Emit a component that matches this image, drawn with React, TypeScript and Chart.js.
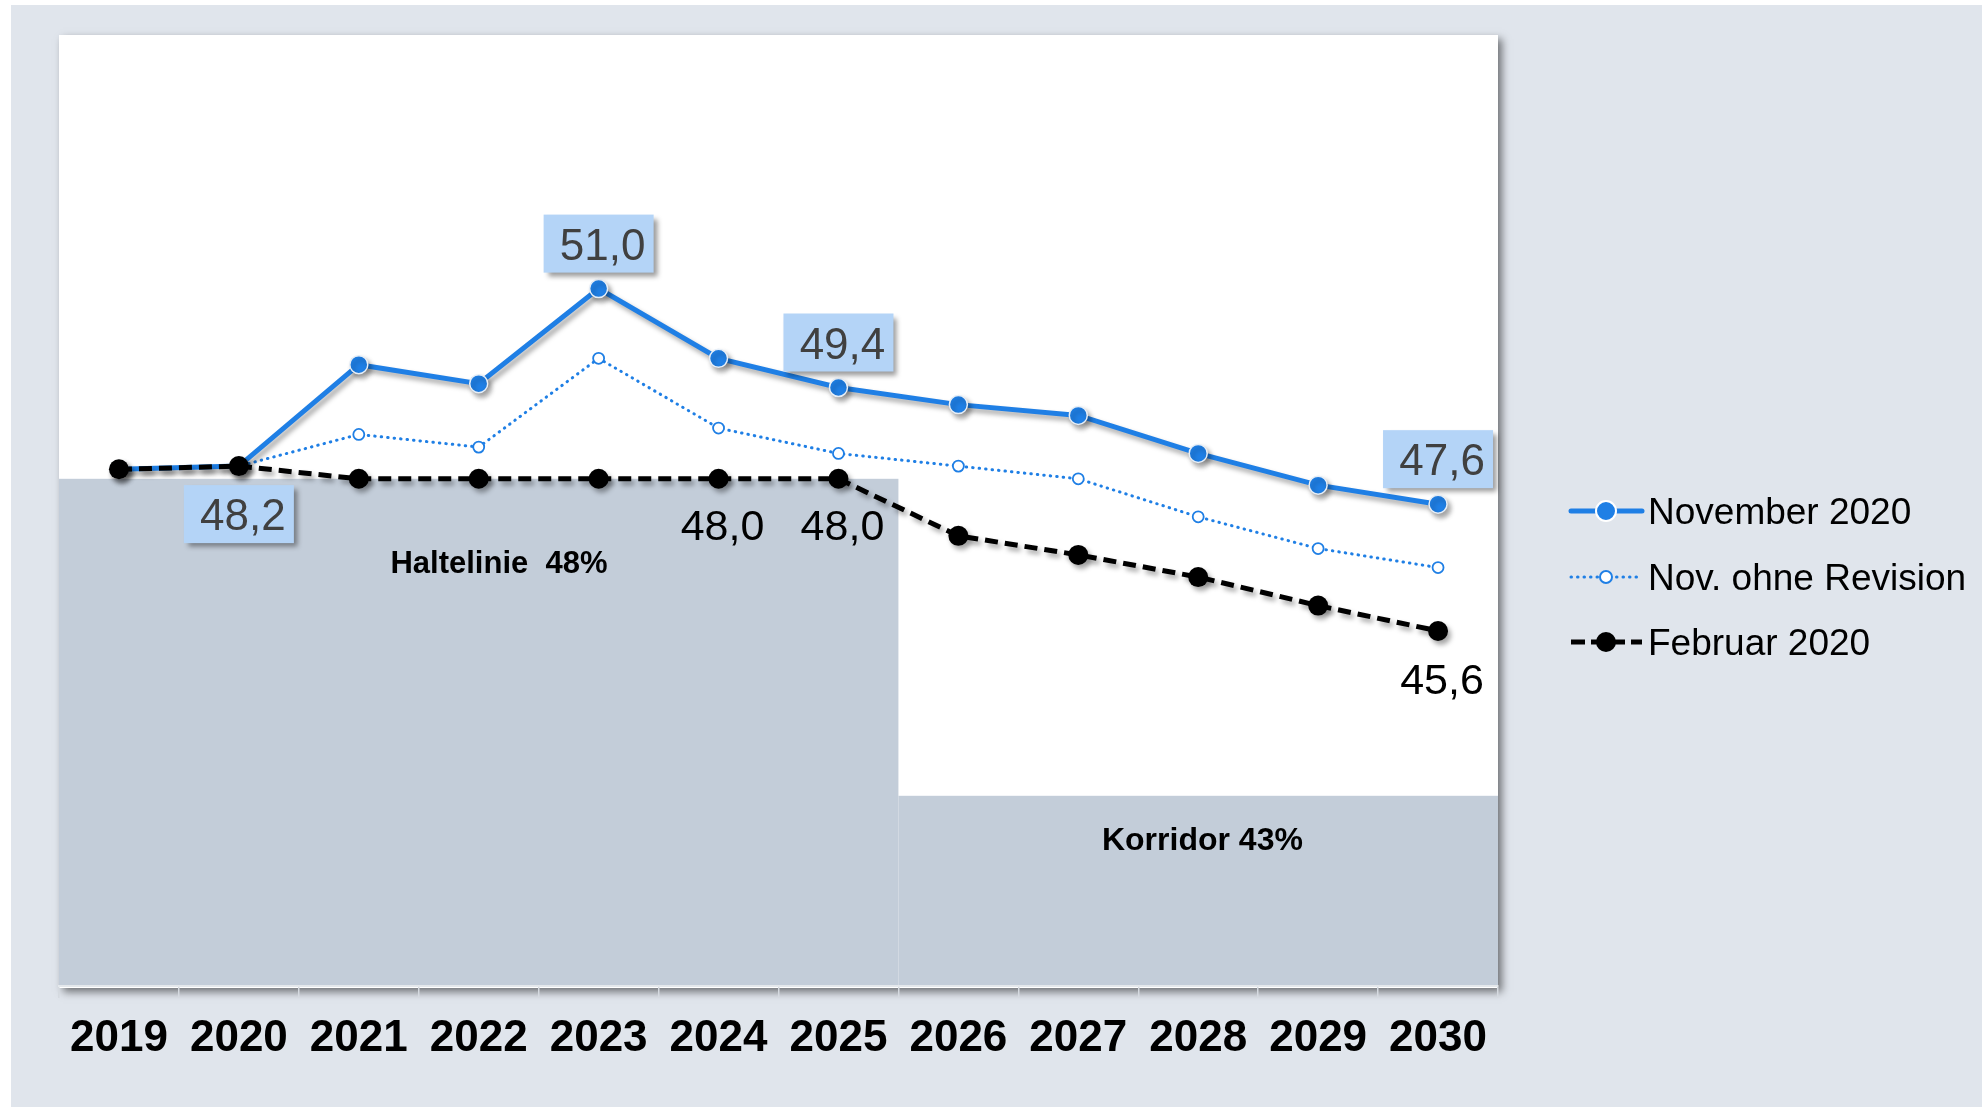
import { useEffect, useRef } from "react";
import { Chart, registerables } from "chart.js";

Chart.register(...registerables);

const years = ["2019", "2020", "2021", "2022", "2023", "2024", "2025", "2026", "2027", "2028", "2029", "2030"];
const november2020 = [48.15, 48.2, 49.8, 49.5, 51.0, 49.9, 49.44, 49.17, 49.0, 48.4, 47.9, 47.6];
const novOhneRevision = [48.15, 48.2, 48.7, 48.5, 49.9, 48.8, 48.4, 48.2, 48.0, 47.4, 46.9, 46.6];
const februar2020 = [48.15, 48.2, 48.0, 48.0, 48.0, 48.0, 48.0, 47.1, 46.8, 46.45, 46.0, 45.6];
const seriesNames = ["Februar 2020", "November 2020", "Nov. ohne Revision"];
const haltelinieValue = 48;
const korridorValue = 43;
const haltelinieLastIndex = 6; // band covers 2019..2025
const bandLabels = ["Haltelinie  48%", "Korridor 43%"];
const boxedAbove = [4, 6, 11];
const boxedBelow = [1];
const februarLabels = [5, 6, 11];

const FONT = "'Liberation Sans', Arial, sans-serif";
const BLUE = "#1F7FE5";
const PANEL = "#E0E5EC";
const BAND = "#C3CDD9";
const BOX = "#B4D4F7";

const fmt = (v: number) => v.toFixed(1).replace(".", ",");

const backgroundPlugin = {
  id: "bg",
  beforeDraw(chart: any) {
    const { ctx, chartArea, scales } = chart;
    const x = scales.x;
    const y = scales.y;
    ctx.save();
    ctx.fillStyle = "#ffffff";
    ctx.fillRect(0, 0, chart.width, chart.height);
    ctx.fillStyle = PANEL;
    ctx.fillRect(11, 5, chart.width - 11, chart.height - 5);
    ctx.save();
    ctx.shadowColor = "rgba(0,0,0,0.5)";
    ctx.shadowBlur = 8;
    ctx.shadowOffsetX = 4;
    ctx.shadowOffsetY = 4;
    ctx.fillStyle = "#ffffff";
    ctx.fillRect(chartArea.left, chartArea.top, chartArea.right - chartArea.left, chartArea.bottom - chartArea.top + 2);
    ctx.restore();
    const boundary = (x.getPixelForValue(haltelinieLastIndex) + x.getPixelForValue(haltelinieLastIndex + 1)) / 2;
    const yH = y.getPixelForValue(haltelinieValue);
    const yK = y.getPixelForValue(korridorValue);
    ctx.fillStyle = BAND;
    ctx.fillRect(chartArea.left, yH, boundary - chartArea.left, chartArea.bottom - yH);
    ctx.fillRect(boundary, yK, chartArea.right - boundary, chartArea.bottom - yK);
    ctx.fillStyle = "#000";
    ctx.textAlign = "center";
    ctx.textBaseline = "middle";
    ctx.font = `bold 31px ${FONT}`;
    ctx.fillText(bandLabels[0], chartArea.left + 440, yH + 86);
    ctx.font = `bold 32px ${FONT}`;
    ctx.fillText(bandLabels[1], boundary + 304, yK + 45);
    ctx.restore();
  },
};

const shadowPlugin = {
  id: "lineShadow",
  beforeDatasetDraw(chart: any, args: any) {
    const ctx = chart.ctx;
    ctx.save();
    if (args.index === 0 || args.index === 1) {
      ctx.shadowColor = "rgba(0,0,0,0.35)";
      ctx.shadowBlur = 5;
      ctx.shadowOffsetX = 3;
      ctx.shadowOffsetY = 4;
    }
  },
  afterDatasetDraw(chart: any) {
    chart.ctx.restore();
  },
};

const labelsPlugin = {
  id: "valueLabels",
  afterDatasetsDraw(chart: any) {
    const { ctx } = chart;
    const feb = chart.getDatasetMeta(0).data;
    const nov = chart.getDatasetMeta(1).data;
    ctx.save();
    const bw = 110;
    const bh = 58;
    const drawBox = (i: number, below: boolean) => {
      const p = nov[i];
      const top = below ? p.y + 19 : p.y - 16 - bh;
      const left = p.x - bw / 2;
      ctx.save();
      ctx.shadowColor = "rgba(0,0,0,0.4)";
      ctx.shadowBlur = 5;
      ctx.shadowOffsetX = 4;
      ctx.shadowOffsetY = 4;
      ctx.fillStyle = BOX;
      ctx.fillRect(left, top, bw, bh);
      ctx.restore();
      ctx.fillStyle = "#404040";
      ctx.font = `44px ${FONT}`;
      ctx.textAlign = "center";
      ctx.textBaseline = "alphabetic";
      ctx.fillText(fmt(november2020[i]), p.x + 4, top + bh / 2 + 16);
    };
    boxedAbove.forEach((i) => drawBox(i, false));
    boxedBelow.forEach((i) => drawBox(i, true));
    ctx.fillStyle = "#000";
    ctx.font = `43px ${FONT}`;
    ctx.textAlign = "center";
    ctx.textBaseline = "alphabetic";
    februarLabels.forEach((i) => {
      const p = feb[i];
      const dy = i === 11 ? 63.5 : 61;
      ctx.fillText(fmt(februar2020[i]), p.x + 4, p.y + dy);
    });
    ctx.restore();
  },
};

const legendPlugin = {
  id: "customLegend",
  afterDraw(chart: any) {
    const { ctx } = chart;
    const x0 = 1571;
    const x1 = 1642;
    const mx = 1606;
    const items = [
      { label: seriesNames[1], y: 511, kind: "solid" },
      { label: seriesNames[2], y: 577, kind: "dotted" },
      { label: seriesNames[0], y: 642, kind: "dashed" },
    ];
    ctx.save();
    items.forEach((it) => {
      ctx.save();
      ctx.beginPath();
      ctx.moveTo(x0, it.y);
      ctx.lineTo(x1, it.y);
      if (it.kind === "solid") {
        ctx.strokeStyle = BLUE;
        ctx.lineWidth = 5;
        ctx.lineCap = "round";
        ctx.stroke();
        ctx.beginPath();
        ctx.arc(mx, it.y, 10, 0, Math.PI * 2);
        ctx.fillStyle = BLUE;
        ctx.fill();
        ctx.strokeStyle = "#ffffff";
        ctx.lineWidth = 2;
        ctx.stroke();
      } else if (it.kind === "dotted") {
        ctx.strokeStyle = BLUE;
        ctx.lineWidth = 3;
        ctx.lineCap = "round";
        ctx.setLineDash([0.5, 6]);
        ctx.stroke();
        ctx.setLineDash([]);
        ctx.beginPath();
        ctx.arc(mx, it.y, 6, 0, Math.PI * 2);
        ctx.fillStyle = "#ffffff";
        ctx.fill();
        ctx.strokeStyle = BLUE;
        ctx.lineWidth = 2;
        ctx.stroke();
      } else {
        ctx.strokeStyle = "#000";
        ctx.lineWidth = 5;
        ctx.setLineDash([14, 6]);
        ctx.stroke();
        ctx.setLineDash([]);
        ctx.beginPath();
        ctx.arc(mx, it.y, 10, 0, Math.PI * 2);
        ctx.fillStyle = "#000";
        ctx.fill();
      }
      ctx.restore();
      ctx.fillStyle = "#000";
      ctx.font = `37px ${FONT}`;
      ctx.textAlign = "left";
      ctx.textBaseline = "alphabetic";
      ctx.fillText(it.label, 1648, it.y + 13);
    });
    ctx.restore();
  },
};

export default function App() {
  const ref = useRef<HTMLCanvasElement | null>(null);
  useEffect(() => {
    document.body.style.margin = "0";
    const canvas = ref.current;
    if (!canvas) return;
    const chart = new Chart(canvas, {
      type: "line",
      data: {
        labels: years,
        datasets: [
          {
            label: seriesNames[0],
            data: februar2020,
            borderColor: "#000",
            backgroundColor: "#000",
            borderWidth: 5,
            borderDash: [13, 7],
            pointRadius: 10,
            pointBackgroundColor: "#000",
            pointBorderWidth: 0,
            tension: 0,
            order: 0,
          },
          {
            label: seriesNames[1],
            data: november2020,
            borderColor: BLUE,
            backgroundColor: BLUE,
            borderWidth: 5,
            pointRadius: 9,
            pointBackgroundColor: BLUE,
            pointBorderColor: "#E6EEF7",
            pointBorderWidth: 1.5,
            tension: 0,
            order: 1,
          },
          {
            label: seriesNames[2],
            data: novOhneRevision,
            borderColor: BLUE,
            backgroundColor: "#fff",
            borderWidth: 3,
            borderDash: [0.5, 6],
            borderCapStyle: "round",
            pointRadius: 5.5,
            pointBackgroundColor: "#ffffff",
            pointBorderColor: BLUE,
            pointBorderWidth: 1.8,
            tension: 0,
            order: 2,
          },
        ],
      },
      options: {
        responsive: false,
        animation: false,
        devicePixelRatio: 1,
        layout: { padding: { left: 59, top: 35, right: 484, bottom: 0 } },
        plugins: {
          legend: { display: false },
          tooltip: { enabled: false },
        },
        scales: {
          x: {
            type: "category",
            offset: true,
            afterFit: (scale: any) => {
              scale.height = 121;
            },
            grid: {
              display: true,
              offset: true,
              drawOnChartArea: false,
              drawTicks: true,
              tickLength: 12,
              color: "#D5DAE0",
              lineWidth: 1.5,
            },
            border: { display: true, color: "#E4E8EC", width: 2 },
            ticks: {
              color: "#000",
              padding: 14,
              maxRotation: 0,
              autoSkip: false,
              font: { family: FONT, size: 44, weight: "bold" },
            },
          },
          y: {
            display: false,
            min: 40,
            max: 55,
          },
        },
      },
      plugins: [backgroundPlugin, shadowPlugin, labelsPlugin, legendPlugin],
    } as any);
    return () => chart.destroy();
  }, []);
  return <canvas ref={ref} width={1982} height={1107} style={{ display: "block", width: 1982, height: 1107 }} />;
}
